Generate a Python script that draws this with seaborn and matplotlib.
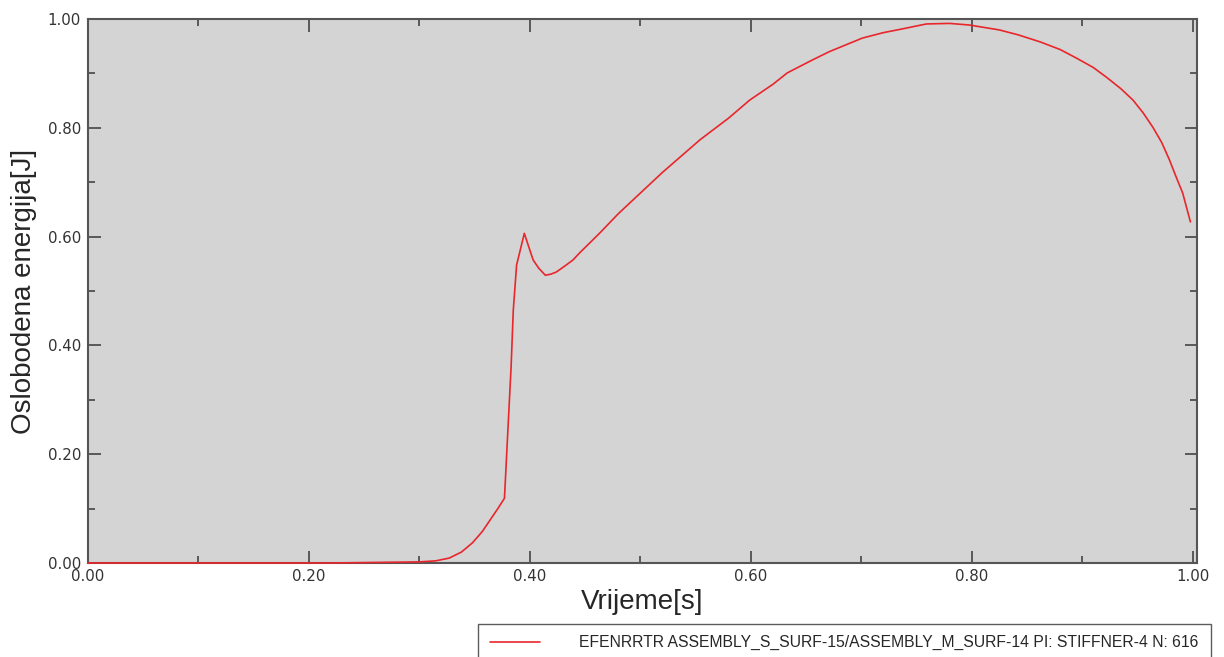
import pandas as pd
import seaborn as sns
import matplotlib.pyplot as plt
from matplotlib.ticker import MultipleLocator, FormatStrFormatter

sns.set_style("ticks")
plt.rcParams['font.family'] = ['DejaVu Sans']

# values
vrijeme = [0.0, 0.22, 0.26, 0.30, 0.315, 0.327, 0.338, 0.348, 0.357, 0.364,
           0.371, 0.377, 0.380, 0.383, 0.385, 0.388, 0.395, 0.400, 0.403, 0.408,
           0.414, 0.419, 0.424, 0.431, 0.439, 0.445, 0.463, 0.480, 0.500, 0.520,
           0.554, 0.580, 0.599, 0.620, 0.633, 0.655, 0.671, 0.701, 0.720, 0.735,
           0.759, 0.780, 0.798, 0.825, 0.842, 0.862, 0.880, 0.895, 0.910, 0.922,
           0.935, 0.946, 0.955, 0.964, 0.972, 0.979, 0.985, 0.991, 0.998]
energija = [0.0, 0.0, 0.001, 0.002, 0.004, 0.009, 0.020, 0.037, 0.058, 0.079,
            0.100, 0.119, 0.240, 0.360, 0.465, 0.548, 0.606, 0.575, 0.557, 0.542,
            0.529, 0.531, 0.535, 0.545, 0.557, 0.570, 0.606, 0.642, 0.680, 0.718,
            0.778, 0.818, 0.851, 0.880, 0.901, 0.924, 0.940, 0.965, 0.975, 0.981,
            0.991, 0.992, 0.989, 0.980, 0.971, 0.958, 0.944, 0.928, 0.911, 0.893,
            0.872, 0.851, 0.828, 0.801, 0.773, 0.741, 0.710, 0.680, 0.627]
serija = "EFENRRTR ASSEMBLY_S_SURF-15/ASSEMBLY_M_SURF-14 PI: STIFFNER-4 N: 616"

df = pd.DataFrame({'t': vrijeme, 'E': energija})

fig = plt.figure(figsize=(12.24, 6.57), dpi=100)
ax = fig.add_axes([0.0719, 0.1431, 0.9061, 0.8279])
ax.set_facecolor('#d4d4d4')

sns.lineplot(data=df, x='t', y='E', ax=ax, color='#e8262b', linewidth=1.2,
             label=serija, legend=False, clip_on=False, zorder=5)

ax.set_xlim(0, 1.004)
ax.set_ylim(0, 1.0)
ax.xaxis.set_major_locator(MultipleLocator(0.2))
ax.xaxis.set_minor_locator(MultipleLocator(0.1))
ax.yaxis.set_major_locator(MultipleLocator(0.2))
ax.yaxis.set_minor_locator(MultipleLocator(0.1))
ax.xaxis.set_major_formatter(FormatStrFormatter('%.2f'))
ax.yaxis.set_major_formatter(FormatStrFormatter('%.2f'))
ax.tick_params(which='both', direction='in', top=True, right=True,
               color='#444444', labelcolor='#333333', labelsize=10.8)
ax.tick_params(which='major', length=9, width=1.2)
ax.tick_params(which='minor', length=5, width=1.2)
ax.tick_params(axis='x', pad=4)
ax.tick_params(axis='y', pad=5)
for s in ax.spines.values():
    s.set_color('#555555')
    s.set_linewidth(1.5)

ax.set_xlabel("Vrijeme[s]", fontsize=20, family='Liberation Sans', labelpad=4)
ax.set_ylabel("Oslobodena energija[J]", fontsize=20, family='Liberation Sans', labelpad=8)

h, l = ax.get_legend_handles_labels()
leg = fig.legend(h, l, loc='lower right', bbox_to_anchor=(0.989, -0.008),
                 frameon=True, fancybox=False, fontsize=11.3, handlelength=3.2,
                 handletextpad=2.5, borderpad=0.75, borderaxespad=0)
leg.get_frame().set_edgecolor('#333333')
leg.get_frame().set_linewidth(1.0)
for t in leg.get_texts():
    t.set_family('Liberation Sans')

fig.savefig('out.png', dpi=100)
